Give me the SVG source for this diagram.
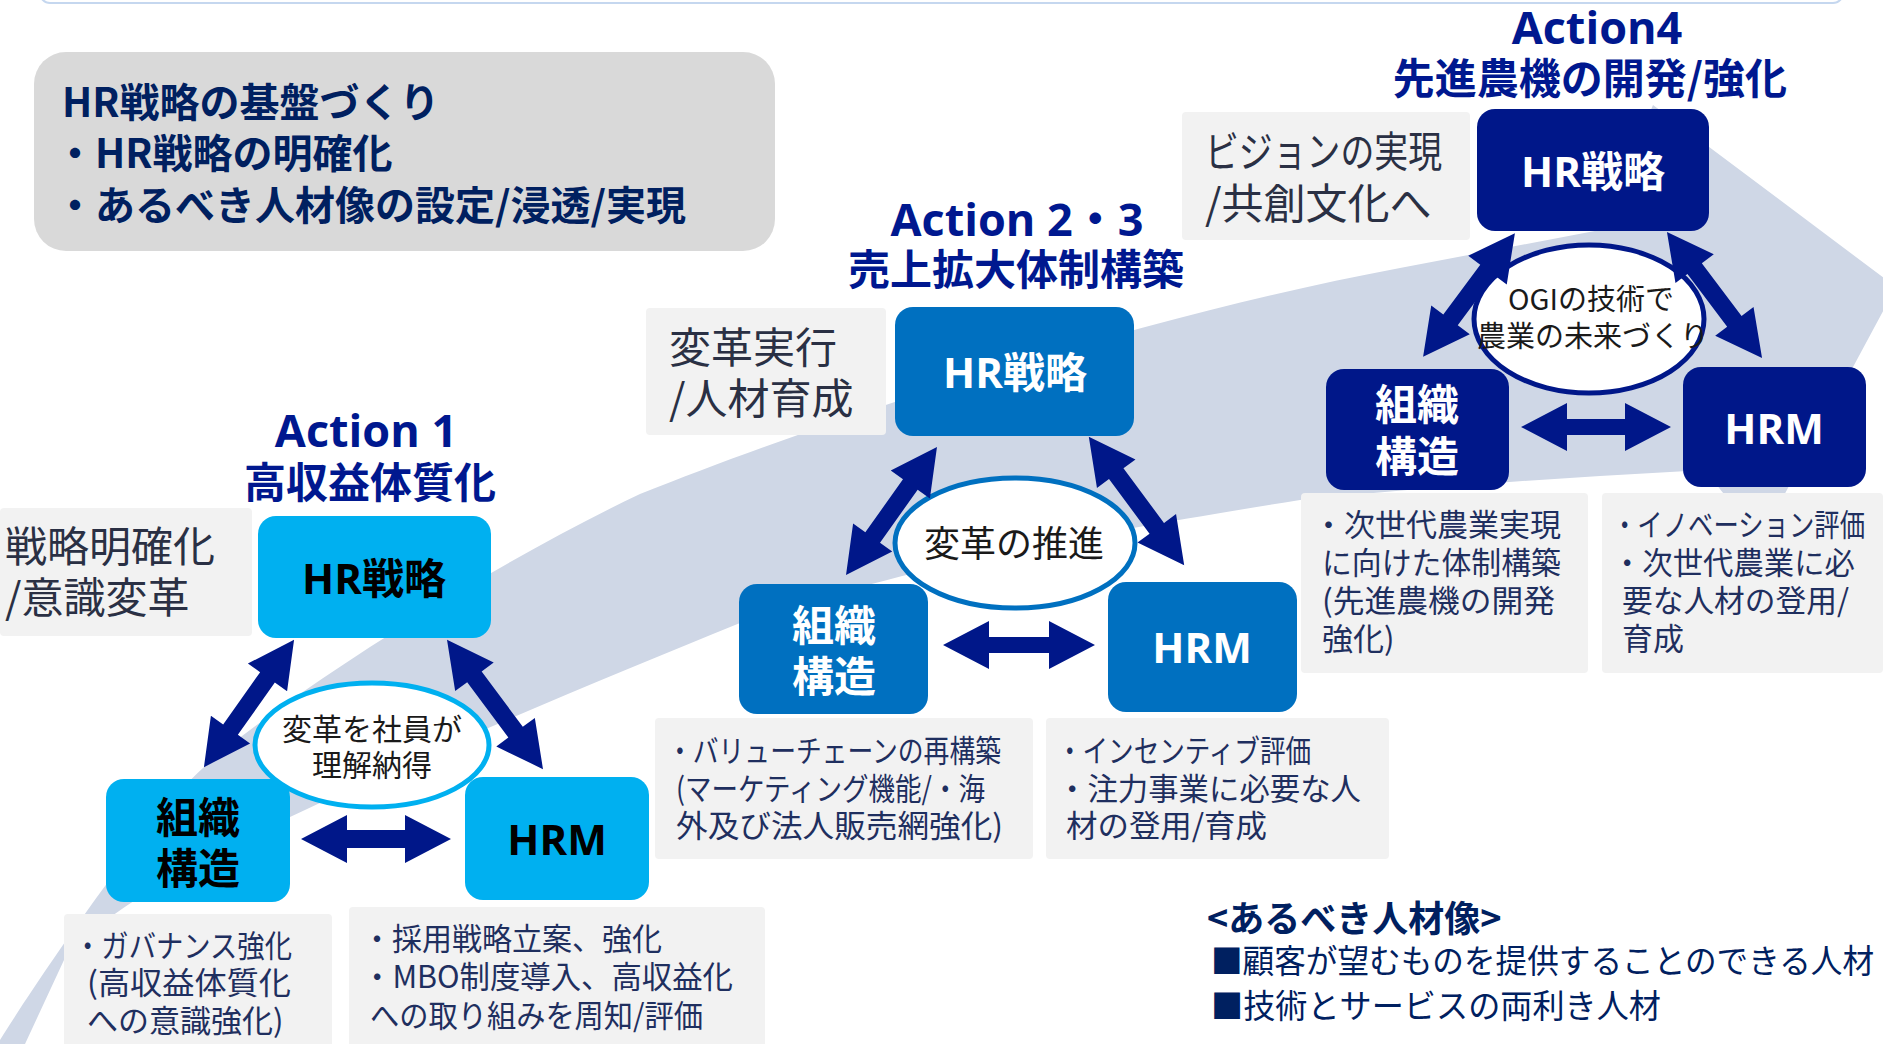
<svg xmlns="http://www.w3.org/2000/svg" width="1883" height="1044" viewBox="0 0 1883 1044">
<style>
.jp{font-family:"Noto Sans CJK JP","Noto Sans",sans-serif;}
.lat{font-family:"Open Sans","Noto Sans CJK JP",sans-serif;}
.ttl{font-weight:bold;fill:#00188F;font-size:42px;text-anchor:middle;}
.ttlL{font-size:45px;}
.bx{font-weight:bold;font-size:42px;text-anchor:middle;}
.lbl{font-size:42px;fill:#2A3044;}
.dsc{font-size:31px;fill:#1F2F5F;}
.ell{fill:#1A1A1A;text-anchor:middle;}
.arw{fill:#001789;}
.pane{fill:#F2F2F2;}
</style>
<rect width="1883" height="1044" fill="#FFFFFF"/>
<path id="band" fill="#CFD7E6" d="M0 1044 L0 1040 C40 976 150 815 203 768 C280 700 480 570 640 494 C850 410 1150 315 1400 268 L1600 230 L1653 105 L1896 287 L1760 540 L1705 470 L1600 476 C1500 482 1400 490 1300 500 C1050 540 900 570 740 623 C600 680 420 755 290 817 C180 870 100 915 64 960 L25 1044 Z"/>
<rect x="40" y="-30" width="1803" height="33" rx="10" fill="#FFFFFF" stroke="#C5D7EF" stroke-width="2"/>

<g id="foundation">
<rect x="34" y="52" width="741" height="199" rx="32" fill="#D9D9D9"/>
<text class="jp" font-weight="bold" font-size="40" fill="#002060"><tspan x="62" y="117">HR戦略の基盤づくり</tspan><tspan x="55" y="168">・HR戦略の明確化</tspan><tspan x="55" y="220">・あるべき人材像の設定/浸透/実現</tspan></text>
</g>

<g id="labels">
<rect class="pane" x="0" y="508" width="252" height="128" rx="4"/>
<text class="jp lbl"><tspan x="5" y="562">戦略明確化</tspan><tspan x="5" y="613">/意識変革</tspan></text>
<rect class="pane" x="646" y="308" width="240" height="127" rx="4"/>
<text class="jp lbl"><tspan x="669" y="363">変革実行</tspan><tspan x="669" y="414">/人材育成</tspan></text>
<rect class="pane" x="1182" y="112" width="288" height="128" rx="4"/>
<text class="jp lbl" x="1205" y="167" textLength="237" lengthAdjust="spacingAndGlyphs">ビジョンの実現</text>
<text class="jp lbl" x="1205" y="219">/共創文化へ</text>
</g>

<g id="descs">
<rect class="pane" x="64" y="914" width="268" height="140" rx="4"/>
<text class="jp dsc" x="74" y="957" textLength="218" lengthAdjust="spacingAndGlyphs">・ガバナンス強化</text>
<text class="jp dsc" x="87" y="994" textLength="204" lengthAdjust="spacingAndGlyphs">(高収益体質化</text>
<text class="jp dsc" x="87" y="1032">への意識強化)</text>
<rect class="pane" x="349" y="907" width="416" height="147" rx="4"/>
<text class="jp dsc" x="362" y="950" textLength="300" lengthAdjust="spacingAndGlyphs">・採用戦略立案、強化</text>
<text class="jp dsc" x="362" y="988" textLength="371" lengthAdjust="spacingAndGlyphs">・MBO制度導入、高収益化</text>
<text class="jp dsc" x="370" y="1027" textLength="333" lengthAdjust="spacingAndGlyphs">への取り組みを周知/評価</text>
<rect class="pane" x="655" y="718" width="378" height="141" rx="4"/>
<text class="jp dsc" x="667" y="762" textLength="334" lengthAdjust="spacingAndGlyphs">・バリューチェーンの再構築</text>
<text class="jp dsc" x="676" y="800" textLength="309" lengthAdjust="spacingAndGlyphs">(マーケティング機能/・海</text>
<text class="jp dsc" x="676" y="837" textLength="327" lengthAdjust="spacingAndGlyphs">外及び法人販売網強化)</text>
<rect class="pane" x="1046" y="718" width="343" height="141" rx="4"/>
<text class="jp dsc" x="1057" y="762" textLength="254" lengthAdjust="spacingAndGlyphs">・インセンティブ評価</text>
<text class="jp dsc" x="1057" y="800" textLength="304" lengthAdjust="spacingAndGlyphs">・注力事業に必要な人</text>
<text class="jp dsc" x="1066" y="837" textLength="201" lengthAdjust="spacingAndGlyphs">材の登用/育成</text>
<rect class="pane" x="1301" y="493" width="287" height="180" rx="4"/>
<text class="jp dsc" x="1313" y="536" textLength="248" lengthAdjust="spacingAndGlyphs">・次世代農業実現</text>
<text class="jp dsc" x="1322" y="574" textLength="239" lengthAdjust="spacingAndGlyphs">に向けた体制構築</text>
<text class="jp dsc" x="1322" y="612" textLength="233" lengthAdjust="spacingAndGlyphs">(先進農機の開発</text>
<text class="jp dsc" x="1322" y="650">強化)</text>
<rect class="pane" x="1602" y="493" width="281" height="180" rx="4"/>
<text class="jp dsc" x="1612" y="536" textLength="253" lengthAdjust="spacingAndGlyphs">・イノベーション評価</text>
<text class="jp dsc" x="1612" y="574" textLength="243" lengthAdjust="spacingAndGlyphs">・次世代農業に必</text>
<text class="jp dsc" x="1622" y="612" textLength="227" lengthAdjust="spacingAndGlyphs">要な人材の登用/</text>
<text class="jp dsc" x="1622" y="650">育成</text>
</g>

<g id="titles">
<text class="lat ttl ttlL" x="366" y="447">Action 1</text>
<text class="jp ttl" x="370" y="498">高収益体質化</text>
<text class="lat ttl ttlL" x="1017" y="236">Action 2・3</text>
<text class="jp ttl" x="1016" y="285">売上拡大体制構築</text>
<text class="lat ttl ttlL" x="1597" y="44">Action4</text>
<text class="jp ttl" x="1590" y="94">先進農機の開発/強化</text>
</g>

<g id="action1-hr">
<rect x="258" y="516" width="233" height="122" rx="18" fill="#00B0F0"/>
<text class="lat bx" x="374" y="594" fill="#000000">HR戦略</text>
</g>
<g id="action1-org">
<rect x="106" y="779" width="184" height="123" rx="18" fill="#00B0F0"/>
<text class="jp bx" fill="#000000"><tspan x="198" y="833">組織</tspan><tspan x="198" y="884">構造</tspan></text>
</g>
<g id="action1-hrm">
<rect x="465" y="777" width="184" height="123" rx="18" fill="#00B0F0"/>
<text class="lat bx" x="557" y="855" fill="#000000">HRM</text>
</g>
<g id="action1-center">
<ellipse cx="372" cy="745" rx="117" ry="62" fill="#FFFFFF" stroke="#00B0F0" stroke-width="5"/>
<text class="jp ell" font-size="30"><tspan x="372" y="740">変革を社員が</tspan><tspan x="372" y="776">理解納得</tspan></text>
</g>

<g id="action2-hr">
<rect x="895" y="307" width="239" height="129" rx="18" fill="#0070C0"/>
<text class="lat bx" x="1015" y="388" fill="#FFFFFF">HR戦略</text>
</g>
<g id="action2-org">
<rect x="739" y="584" width="189" height="130" rx="18" fill="#0070C0"/>
<text class="jp bx" fill="#FFFFFF"><tspan x="834" y="641">組織</tspan><tspan x="834" y="692">構造</tspan></text>
</g>
<g id="action2-hrm">
<rect x="1108" y="582" width="189" height="130" rx="18" fill="#0070C0"/>
<text class="lat bx" x="1202" y="663" fill="#FFFFFF">HRM</text>
</g>
<g id="action2-center">
<ellipse cx="1015" cy="543" rx="120" ry="65" fill="#FFFFFF" stroke="#0070C0" stroke-width="5"/>
<text class="jp ell" font-size="36" x="1014" y="557">変革の推進</text>
</g>

<g id="action4-hr">
<rect x="1477" y="109" width="232" height="122" rx="18" fill="#001789"/>
<text class="lat bx" x="1593" y="187" fill="#FFFFFF">HR戦略</text>
</g>
<g id="action4-org">
<rect x="1326" y="369" width="183" height="121" rx="18" fill="#001789"/>
<text class="jp bx" fill="#FFFFFF"><tspan x="1417" y="420">組織</tspan><tspan x="1417" y="472">構造</tspan></text>
</g>
<g id="action4-hrm">
<rect x="1683" y="367" width="183" height="120" rx="18" fill="#001789"/>
<text class="lat bx" x="1774" y="444" fill="#FFFFFF">HRM</text>
</g>
<g id="action4-center">
<ellipse cx="1589" cy="319" rx="115" ry="74" fill="#FFFFFF" stroke="#001789" stroke-width="5"/>
<text class="jp ell" font-size="29"><tspan x="1591" y="310">OGIの技術で</tspan><tspan x="1593" y="347">農業の未来づくり</tspan></text>
</g>

<g id="connectors">
<path class="arw" transform="translate(249 703.5) rotate(-54.7)" d="M-78 0 L-32 -24 L-32 -9 L32 -9 L32 -24 L78 0 L32 24 L32 9 L-32 9 L-32 24 Z"/>
<path class="arw" transform="translate(495 704.5) rotate(53.4)" d="M-80.5 0 L-34.5 -24 L-34.5 -9 L34.5 -9 L34.5 -24 L80.5 0 L34.5 24 L34.5 9 L-34.5 9 L-34.5 24 Z"/>
<path class="arw" transform="translate(376 839)" d="M-75 0 L-29 -24 L-29 -9 L29 -9 L29 -24 L75 0 L29 24 L29 9 L-29 9 L-29 24 Z"/>
<path class="arw" transform="translate(891.5 511) rotate(-54.6)" d="M-78.5 0 L-32.5 -24 L-32.5 -9 L32.5 -9 L32.5 -24 L78.5 0 L32.5 24 L32.5 9 L-32.5 9 L-32.5 24 Z"/>
<path class="arw" transform="translate(1136.5 501) rotate(53.4)" d="M-80 0 L-34 -24 L-34 -9 L34 -9 L34 -24 L80 0 L34 24 L34 9 L-34 9 L-34 24 Z"/>
<path class="arw" transform="translate(1019 645)" d="M-76 0 L-30 -24 L-30 -8 L30 -8 L30 -24 L76 0 L30 24 L30 8 L-30 8 L-30 24 Z"/>
<path class="arw" transform="translate(1469 295) rotate(-53.4)" d="M-77 0 L-31 -24 L-31 -9 L31 -9 L31 -24 L77 0 L31 24 L31 9 L-31 9 L-31 24 Z"/>
<path class="arw" transform="translate(1714.5 295) rotate(53)" d="M-79 0 L-33 -24 L-33 -9 L33 -9 L33 -24 L79 0 L33 24 L33 9 L-33 9 L-33 24 Z"/>
<path class="arw" transform="translate(1596 427)" d="M-75 0 L-29 -24 L-29 -8 L29 -8 L29 -24 L75 0 L29 24 L29 8 L-29 8 L-29 24 Z"/>
</g>

<g id="ideal">
<text class="jp" font-weight="bold" font-size="36" fill="#002060" x="1207" y="932">&lt;あるべき人材像&gt;</text>
<text class="jp" font-size="33" fill="#002060" x="1211" y="973" textLength="663" lengthAdjust="spacingAndGlyphs">■顧客が望むものを提供することのできる人材</text>
<text class="jp" font-size="33" fill="#002060" x="1211" y="1018" textLength="450" lengthAdjust="spacingAndGlyphs">■技術とサービスの両利き人材</text>
</g>
</svg>
